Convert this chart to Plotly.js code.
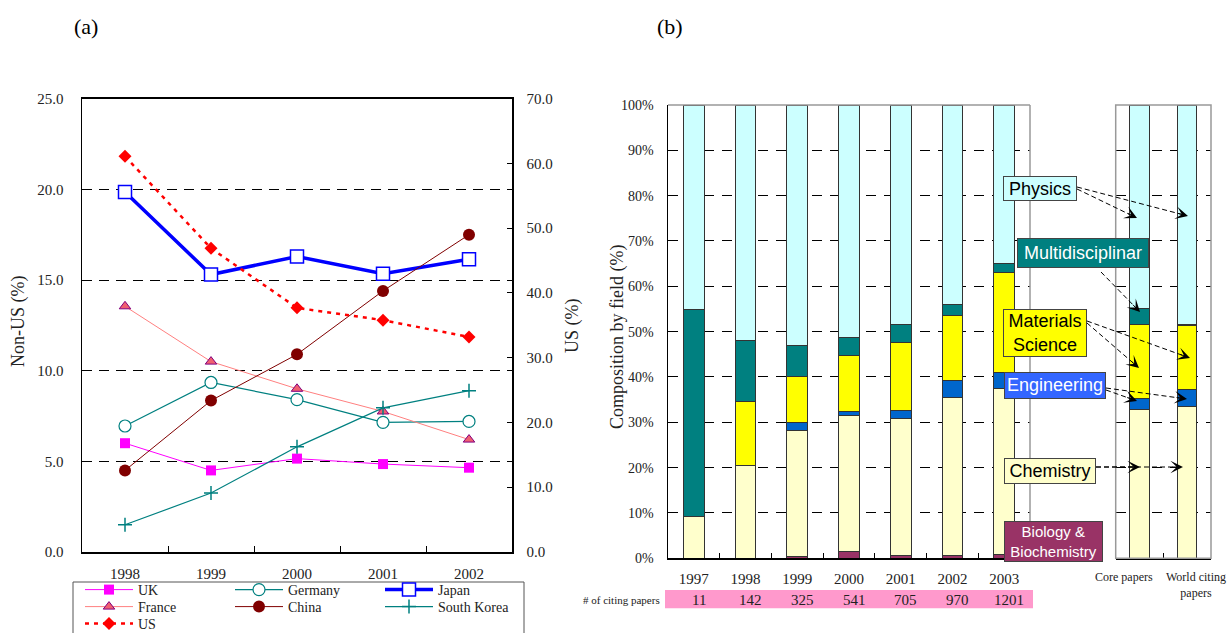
<!DOCTYPE html>
<html><head><meta charset="utf-8">
<script src="https://cdn.plot.ly/plotly-3.0.1.min.js"></script>
<style>html,body{margin:0;padding:0;background:#fff;overflow:hidden;width:1230px;height:633px}#chart{width:1230px;height:660px}</style>
</head><body><div id="chart"></div>
<script>
// ---------- Panel (a) data ----------
const yearsA = ['1998','1999','2000','2001','2002'];
const uk = [6.0, 4.5, 5.15, 4.85, 4.65];
const germany = [6.95, 9.35, 8.4, 7.15, 7.2];
const japan = [19.85, 15.3, 16.3, 15.35, 16.15];
const france = [13.55, 10.5, 9.0, 7.75, 6.2];
const china = [4.5, 8.35, 10.9, 14.4, 17.5];
const southKorea = [1.5, 3.25, 5.8, 7.95, 8.9];
const us = [61.1, 46.9, 37.7, 35.8, 33.2];

// ---------- Panel (b) data ----------
const yearsB = ['1997','1998','1999','2000','2001','2002','2003'];
const citingPapers = [11, 142, 325, 541, 705, 970, 1201];
const bioB   = [0, 0, 0.4, 1.6, 0.7, 0.7, 0.9];
const chemB  = [9.3, 20.5, 27.8, 30.0, 30.2, 34.8, 36.5];
const engB   = [0, 0, 1.8, 0.8, 1.7, 3.8, 3.5];
const matB   = [0, 14.0, 10.1, 12.4, 15.1, 14.2, 22.2];
const multiB = [45.5, 13.6, 6.8, 4.0, 3.8, 2.4, 1.9];
const physB  = [45.2, 51.9, 53.1, 51.2, 48.5, 44.1, 35.0];

const groupsC = ['Core papers', 'World citing papers'];
const groupLabelsC = ['Core papers', 'World citing<br>papers'];
const bioC   = [0, 0];
const chemC  = [32.9, 33.5];
const engC   = [2.3, 3.8];
const matC   = [16.4, 14.1];
const multiC = [3.6, 0.2];
const physC  = [44.8, 48.4];

const fieldNames = ['Biology & Biochemistry','Chemistry','Engineering','Materials Science','Multidisciplinary','Physics'];
const fieldColors = ['#993366','#FFFFCC','#0066CC','#FFFF00','#008080','#CCFFFF'];

// ---------- helpers (figure is taller than the window; bottom is cropped like the original) ----------
const W = 1230, H = 660;
const px = x => x / W;
const py = y => 1 - y / H;
const SERIF = 'Liberation Serif, Times New Roman, serif';
const SANS = 'Liberation Sans, Arial, sans-serif';

// ---------- traces ----------
const traces = [];
function lineTrace(name, y, opts) {
  return Object.assign({type:'scatter', mode:'lines+markers', x: yearsA, y: y, name: name,
    xaxis:'x', yaxis:'y', cliponaxis:false}, opts);
}
// legend rows: row 1 -> 'legend', row 2 -> 'legend2', row 3 -> 'legend3'
traces.push(lineTrace('UK', uk, {legend:'legend', line:{color:'#FF00FF', width:1},
  marker:{symbol:'square', size:10, color:'#FF00FF'}}));
traces.push(lineTrace('Germany', germany, {legend:'legend', line:{color:'#008080', width:1.2},
  marker:{symbol:'circle', size:12, color:'#FFFFFF', line:{color:'#008080', width:1.2}}}));
traces.push(lineTrace('Japan', japan, {legend:'legend', line:{color:'#0000FF', width:3.5},
  marker:{symbol:'square', size:13, color:'#FFFFFF', line:{color:'#0000FF', width:1.5}}}));
traces.push(lineTrace('France', france, {legend:'legend2', line:{color:'#FF8080', width:1},
  marker:{symbol:'triangle-up', size:10, color:'#F06070', line:{color:'#800080', width:1}}}));
traces.push(lineTrace('China', china, {legend:'legend2', line:{color:'#800000', width:1},
  marker:{symbol:'circle', size:12, color:'#800000'}}));
traces.push(lineTrace('South Korea', southKorea, {legend:'legend2', line:{color:'#008080', width:1.2},
  marker:{symbol:'cross-thin', size:10, color:'#008080', line:{color:'#008080', width:1.5}}}));
traces.push(lineTrace('US', us, {legend:'legend3', yaxis:'y2', line:{color:'#FF0000', width:2.5, dash:'4px,5px'},
  marker:{symbol:'diamond', size:10, color:'#FF0000'}}));

const seriesB = [bioB, chemB, engB, matB, multiB, physB];
const seriesC = [bioC, chemC, engC, matC, multiC, physC];
seriesB.forEach((vals, i) => traces.push({type:'bar', x: yearsB, y: vals, name: fieldNames[i],
  xaxis:'x2', yaxis:'y3', width:0.4, showlegend:false,
  marker:{color: fieldColors[i], line:{color:'#333', width:1}}}));
seriesC.forEach((vals, i) => traces.push({type:'bar', x: groupsC, y: vals, name: fieldNames[i],
  xaxis:'x3', yaxis:'y4', width:0.41, showlegend:false,
  marker:{color: fieldColors[i], line:{color:'#333', width:1}}}));

// ---------- shapes ----------
const shapes = [
  // legend frame
  {type:'rect', xref:'paper', yref:'paper', x0:px(73), x1:px(524), y0:py(650), y1:py(582), line:{color:'#555', width:1}},
  // panel (b) top / right gray border
  {type:'line', xref:'paper', yref:'paper', x0:px(668), x1:px(1030), y0:py(105), y1:py(105), line:{color:'#999', width:1.5}},
  {type:'line', xref:'paper', yref:'paper', x0:px(1030), x1:px(1030), y0:py(105), y1:py(558.3), line:{color:'#999', width:1.5}},
  // side panel frame
  {type:'rect', xref:'paper', yref:'paper', x0:px(1115.7), x1:px(1211), y0:py(558.3), y1:py(105), line:{color:'#999', width:1.5}},
  // pink band
  {type:'rect', xref:'paper', yref:'paper', x0:px(665), x1:px(1033), y0:py(608.3), y1:py(590), fillcolor:'#FF99CC', line:{width:0}, layer:'below'}
];

// dashed arrows: [startX, startY, tipX, tipY]
const arrows = [
  [1077, 189, 1137, 218], [1077, 187, 1188, 216],
  [1101, 272, 1140, 312],
  [1087, 323, 1139, 368], [1087, 321, 1190, 358],
  [1106, 390, 1137, 401], [1106, 388, 1187, 399],
  [1096, 467, 1140, 467], [1096, 467, 1183, 467]
];
const annotations = [];
arrows.forEach(a => {
  const dx = a[0] - a[2], dy = a[1] - a[3];
  const len = Math.hypot(dx, dy);
  shapes.push({type:'line', xref:'paper', yref:'paper', x0:px(a[0]), y0:py(a[1]),
    x1:px(a[2] + dx/len*6), y1:py(a[3] + dy/len*6), line:{color:'#000', width:1, dash:'5px,3px'}});
  annotations.push({xref:'paper', yref:'paper', x:px(a[2]), y:py(a[3]), ax:dx/len*12, ay:dy/len*12,
    text:'', showarrow:true, arrowhead:3, arrowsize:2.1, arrowwidth:1, arrowcolor:'#000'});
});

function label(x, y, text, size, extra) {
  return Object.assign({xref:'paper', yref:'paper', x:px(x), y:py(y), xanchor:'center', yanchor:'middle',
    text:text, showarrow:false, font:{family:SERIF, size:size, color:'#222'}}, extra || {});
}
// panel labels
annotations.push(label(86, 27, '(a)', 22, {font:{family:SERIF, size:22, color:'#000'}}));
annotations.push(label(670, 27, '(b)', 22, {font:{family:SERIF, size:22, color:'#000'}}));
// axis titles
annotations.push(label(18, 321, 'Non-US (%)', 18, {textangle:-90}));
annotations.push(label(572, 326, 'US (%)', 18, {textangle:-90}));
annotations.push(label(617, 337, 'Composition by field (%)', 18, {textangle:-90}));
// citing papers row
annotations.push(label(662, 599.5, '# of citing papers', 11, {xanchor:'right'}));
citingPapers.forEach((n, i) => annotations.push({xref:'x2', yref:'paper', x: i, y: py(599.5), xshift:5,
  xanchor:'center', yanchor:'middle', text: String(n), showarrow:false, font:{family:SERIF, size:15, color:'#222'}}));
// side categories
annotations.push({xref:'x3', yref:'paper', x: 0, y: py(577), xshift:-16, xanchor:'center', yanchor:'middle',
  text: groupLabelsC[0], showarrow:false, font:{family:SERIF, size:12, color:'#222'}});
annotations.push({xref:'x3', yref:'paper', x: 1, y: py(585), xshift:9, xanchor:'center', yanchor:'middle',
  text: groupLabelsC[1], showarrow:false, font:{family:SERIF, size:12, color:'#222'}});

// field label boxes: [text, centerX, centerY, w, h, bg, fg, size]
const boxes = [
  ['Physics', 1040, 188.5, 74, 25, '#CCFFFF', '#000', 18],
  ['Multidisciplinar', 1083, 252.5, 132, 30, '#008080', '#FFF', 18],
  ['Materials<br>Science', 1045, 333, 84, 48, '#FFFF00', '#000', 18],
  ['Engineering', 1054.5, 385, 102, 26.5, '#3366FF', '#FFF', 18],
  ['Chemistry', 1050, 471.3, 92, 26, '#FFFFCC', '#000', 18],
  ['Biology &amp;<br>Biochemistry', 1053.3, 541, 99, 40.5, '#993366', '#FFF', 15]
];
boxes.forEach(b => annotations.push({xref:'paper', yref:'paper', x:px(b[1]), y:py(b[2]),
  xanchor:'center', yanchor:'middle', text:b[0], showarrow:false, width:b[3]-2, height:b[4]-2,
  borderpad:0, bgcolor:b[5], bordercolor:'#444', borderwidth:1, align:'center',
  font:{family:SANS, size:b[7], color:b[6]}}));

const gridA = {showgrid:true, gridcolor:'#000', gridwidth:1, griddash:'10px,7px'};
const gridB = {showgrid:true, gridcolor:'#000', gridwidth:1, griddash:'10px,8px'};
const legendBase = {x:px(80), yref:'paper', xanchor:'left', yanchor:'top', orientation:'h',
  bgcolor:'rgba(0,0,0,0)', itemwidth:48, entrywidth:87, entrywidthmode:'pixels',
  font:{family:SERIF, size:14, color:'#222'}, tracegroupgap:0, traceorder:'normal'};

const layout = {
  width: W, height: H, margin:{l:0, r:0, t:0, b:0},
  paper_bgcolor:'#fff', plot_bgcolor:'rgba(0,0,0,0)',
  barmode:'stack', showlegend:true, hovermode:false,
  font:{family:SERIF, size:15, color:'#222'},
  xaxis:{domain:[px(82), px(512)], type:'category', range:[-0.5, 4.5], anchor:'y',
    showline:true, linecolor:'#000', linewidth:1.5, mirror:true, ticks:'inside', tickson:'boundaries',
    ticklen:6, tickcolor:'#000', showgrid:false, ticklabelstandoff:7},
  yaxis:Object.assign({domain:[py(552), py(98.7)], anchor:'x', range:[0, 25], dtick:5, tickformat:'.1f',
    showline:true, linecolor:'#000', linewidth:1.5, zeroline:false, ticks:'', ticklabelstandoff:14}, gridA),
  yaxis2:{overlaying:'y', side:'right', anchor:'x', range:[0, 70], dtick:10, tickformat:'.1f',
    showgrid:false, showline:true, linecolor:'#000', linewidth:1.5, zeroline:false,
    ticks:'inside', ticklen:5, tickcolor:'#000', ticklabelstandoff:10},
  xaxis2:{domain:[px(668), px(1030)], type:'category', range:[-0.5, 6.5], anchor:'y3',
    showline:true, linecolor:'#000', linewidth:1.5, ticks:'inside', tickson:'boundaries', ticklen:5,
    tickcolor:'#000', showgrid:false, ticklabelstandoff:6},
  yaxis3:Object.assign({domain:[py(558.3), py(105)], anchor:'x2', range:[0, 100], dtick:10, ticksuffix:'%',
    showline:true, linecolor:'#000', linewidth:1.5, zeroline:false, ticks:'', ticklabelstandoff:10,
    tickfont:{size:14}}, gridB),
  xaxis3:{domain:[px(1115.7), px(1211)], type:'category', range:[-0.5, 1.5], anchor:'y4',
    showline:true, linecolor:'#000', linewidth:1.5, ticks:'inside', tickson:'boundaries', ticklen:5,
    tickcolor:'#000', showgrid:false, showticklabels:false},
  yaxis4:Object.assign({domain:[py(558.3), py(105)], anchor:'x3', range:[0, 100], dtick:10,
    showticklabels:false, showline:false, zeroline:false, ticks:''}, gridB),
  legend:Object.assign({y:py(574)}, legendBase),
  legend2:Object.assign({y:py(591)}, legendBase),
  legend3:Object.assign({y:py(608)}, legendBase),
  shapes: shapes,
  annotations: annotations
};

Plotly.newPlot('chart', traces, layout, {displayModeBar:false, staticPlot:true});
</script>
</body></html>
